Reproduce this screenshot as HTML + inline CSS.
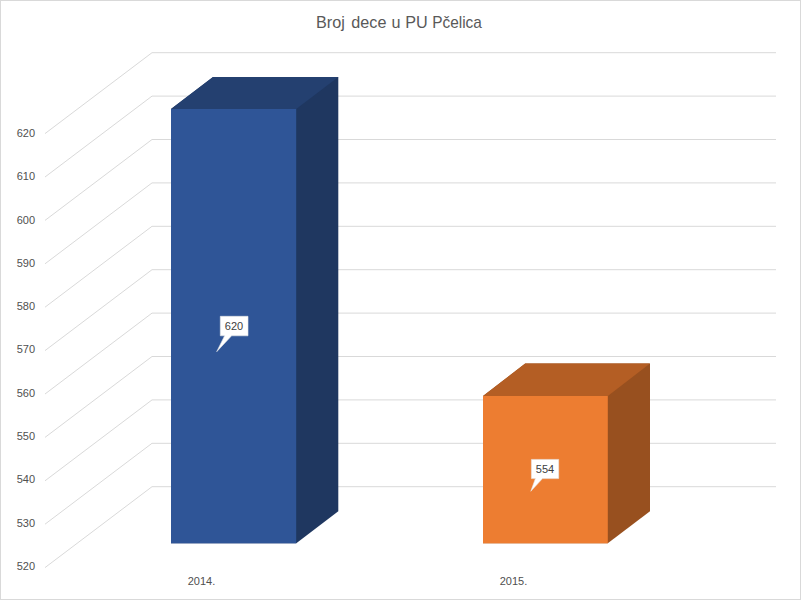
<!DOCTYPE html>
<html><head><meta charset="utf-8">
<style>
html,body{margin:0;padding:0;background:#fff;}
body{width:801px;height:600px;overflow:hidden;}
svg{display:block;font-family:"Liberation Sans",sans-serif;}
</style></head><body>
<svg width="801" height="600" viewBox="0 0 801 600">
<rect x="0" y="0" width="801" height="600" fill="#fff"/>
<rect x="0.5" y="0.5" width="800" height="599" fill="none" stroke="#d9d9d9" stroke-width="1"/>
<g fill="none" stroke="#d9d9d9" stroke-width="1">
<path d="M45,133.60 L152,52.70 L776,52.70" />
<path d="M45,177.00 L152,96.10 L776,96.10" />
<path d="M45,220.40 L152,139.50 L776,139.50" />
<path d="M45,263.80 L152,182.90 L776,182.90" />
<path d="M45,307.20 L152,226.30 L776,226.30" />
<path d="M45,350.60 L152,269.70 L776,269.70" />
<path d="M45,394.00 L152,313.10 L776,313.10" />
<path d="M45,437.40 L152,356.50 L776,356.50" />
<path d="M45,480.80 L152,399.90 L776,399.90" />
<path d="M45,524.20 L152,443.30 L776,443.30" />
<path d="M45,567.60 L152,486.70 L776,486.70" />
</g>
<g font-size="16.2" fill="#595959">
<text x="316" y="27.7">Broj</text>
<text x="351.3" y="27.7">dece</text>
<text x="391.5" y="27.7">u</text>
<text x="405.2" y="27.7">PU</text>
<text x="432.2" y="27.7" transform="translate(433,0) scale(0.952,1) translate(-433,0)">Pčelica</text>
</g>
<g font-size="11" fill="#505050">
<text x="35" y="136.90" text-anchor="end">620</text>
<text x="35" y="180.21" text-anchor="end">610</text>
<text x="35" y="223.52" text-anchor="end">600</text>
<text x="35" y="266.83" text-anchor="end">590</text>
<text x="35" y="310.14" text-anchor="end">580</text>
<text x="35" y="353.45" text-anchor="end">570</text>
<text x="35" y="396.76" text-anchor="end">560</text>
<text x="35" y="440.07" text-anchor="end">550</text>
<text x="35" y="483.38" text-anchor="end">540</text>
<text x="35" y="526.69" text-anchor="end">530</text>
<text x="35" y="570.00" text-anchor="end">520</text>
<text x="201.5" y="585" text-anchor="middle">2014.</text>
<text x="513.5" y="585" text-anchor="middle">2015.</text>
</g>
<!-- bar 1 -->
<polygon points="171,109 213,77 338.3,77 338.3,511.3 296.3,543.3 171,543.3" fill="#1f3760"/>
<polygon points="171,109 296.2,109 338.3,77 213,77" fill="#244070"/>
<rect x="171" y="109" width="125.2" height="434.3" fill="#2f5597"/>
<!-- bar 2 -->
<polygon points="483,396 525.2,363.6 650,363.6 650,511.3 607.8,543.3 483,543.3" fill="#98501f"/>
<polygon points="483,396 607.8,396 650,363.6 525.2,363.6" fill="#b45e24"/>
<rect x="483" y="396" width="124.8" height="147.3" fill="#ed7d31"/>
<!-- callouts -->
<g fill="#fff" stroke="#e6e6e6" stroke-width="0.6" stroke-linejoin="miter">
<polygon points="220.3,316.3 248,316.3 248,335.8 231.6,335.8 216.7,351.7 224.6,335.8 220.3,335.8"/>
<polygon points="531.4,459.4 558.7,459.4 558.7,478.6 542.5,478.6 530.8,491.3 535.4,478.6 531.4,478.6"/>
</g>
<g font-size="11" fill="#404040" text-anchor="middle">
<text x="234" y="330">620</text>
<text x="545" y="473">554</text>
</g>
</svg>
</body></html>
